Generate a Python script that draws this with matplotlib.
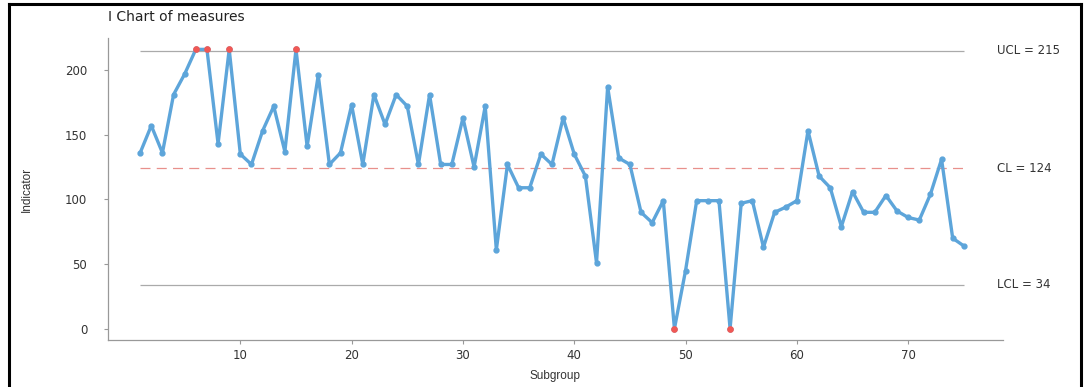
import numpy as np
import matplotlib
matplotlib.use("Agg")
import matplotlib.pyplot as plt
import matplotlib.transforms as mtransforms
from matplotlib.lines import Line2D

plt.rcParams['font.family'] = ['DejaVu Sans']

# --- data ----------------------------------------------------------------------------------
subgroup = list(range(1, 76))
measures = [136, 157, 136, 181, 197, 216, 216, 143, 216, 135,
            127, 153, 172, 137, 216, 141, 196, 127, 136, 173,
            127, 181, 158, 181, 172, 127, 181, 127, 127, 163,
            125, 172, 61, 127, 109, 109, 135, 127, 163, 135,
            118, 51, 187, 132, 127, 90, 82, 99, 0, 45,
            99, 99, 99, 0, 97, 99, 63, 90, 94, 99,
            153, 118, 109, 79, 106, 90, 90, 103, 91, 86,
            84, 104, 131, 70, 64]
UCL, CL, LCL = 215, 124, 34
limit_names = ["UCL", "CL", "LCL"]
limit_values = [UCL, CL, LCL]
x_ticks = [10, 20, 30, 40, 50, 60, 70]
y_ticks = [0, 50, 100, 150, 200]

W, H = 1086, 387
fig = plt.figure(figsize=(W / 100, H / 100), dpi=100)
ax = fig.add_axes([108 / W, 1 - 340 / H, (1003 - 108) / W, (340 - 38) / H])

blue = "#5DA5DA"
red = "#F15854"
x = np.array(subgroup)
y = np.array(measures)

# control limits
ax.hlines([UCL, LCL], 1, 75, color="#aaaaaa", lw=0.9, zorder=1)
ax.hlines(CL, 1, 75, color="#E8908C", lw=0.9, linestyles=(0, (8, 5)), zorder=1)

ax.plot(x, y, "-", color=blue, lw=2.4, zorder=2)
ax.plot(x, y, "o", color=blue, ms=3.5, zorder=3)
out = (y > UCL) | (y < LCL)
ax.plot(x[out], y[out], "o", color=red, ms=3.8, zorder=4)

lab_tr = mtransforms.blended_transform_factory(fig.transFigure, ax.transData)
for name, val in zip(limit_names, limit_values):
    ax.text(997 / W, val, f"{name} = {val}", transform=lab_tr,
            ha="left", va="center", fontsize=8.5, color="#333333")

ax.set_xlim(-1.89, 78.52)
ax.set_ylim(-8.74, 224.8)
ax.set_xticks(x_ticks)
ax.set_yticks(y_ticks)
ax.tick_params(axis="both", colors="#999999", labelcolor="#333333", labelsize=8.5,
               length=3, width=0.8)
ax.tick_params(axis="y", pad=12)
for s in ["top", "right"]:
    ax.spines[s].set_visible(False)
for s in ["left", "bottom"]:
    ax.spines[s].set_color("#999999")
    ax.spines[s].set_linewidth(0.9)
ax.set_xlabel("Subgroup", fontsize=8.5, color="#333333", family="Liberation Sans")
ax.set_ylabel("Indicator", fontsize=8.5, color="#333333", family="Liberation Sans")
ax.xaxis.set_label_coords(0.5, (340 - 376) / 302)
ax.yaxis.set_label_coords((27 - 108) / 895, 0.5)
ax.xaxis.label.set_va("center")
ax.yaxis.label.set_va("center")

fig.text(108 / W, 1 - 17 / H, "I Chart of measures", ha="left", va="center",
         fontsize=10, color="#222222")

# black frame around the image
for (x0, y0, x1, y1) in [(9, 4, 9, 387), (9, 4, 1081, 4), (1081, 4, 1081, 387)]:
    fig.add_artist(Line2D([x0 / W, x1 / W], [1 - y0 / H, 1 - y1 / H],
                          transform=fig.transFigure, color="black", lw=2.2))

fig.savefig("out.png", dpi=100)
